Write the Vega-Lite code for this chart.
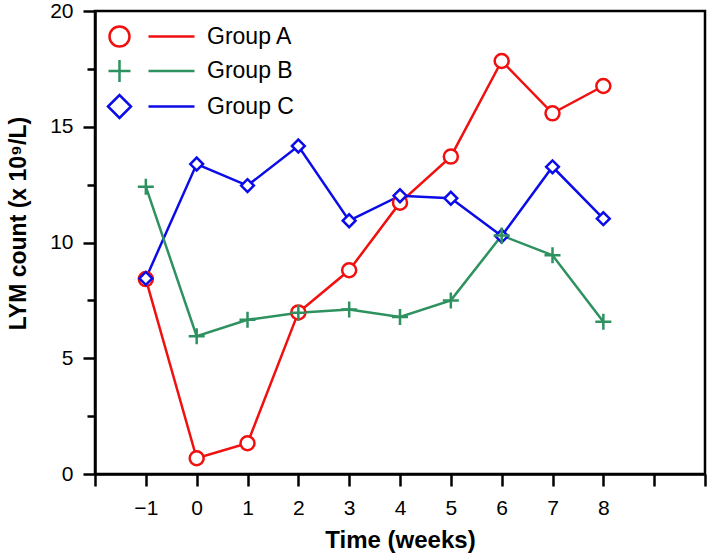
{
  "$schema": "https://vega.github.io/schema/vega-lite/v6.json",
  "autosize": {"type": "none"},
  "padding": {"left": 95, "top": 11, "right": 4, "bottom": 80},
  "width": 610,
  "height": 463,
  "background": "white",
  "config": {
    "view": {"stroke": "black", "strokeWidth": 2.5},
    "font": "Liberation Sans",
    "axis": {
      "domainColor": "black", "domainWidth": 2.5,
      "tickColor": "black", "tickWidth": 2.5,
      "labelColor": "black", "labelFont": "Liberation Sans", "labelFontSize": 21,
      "titleColor": "black", "titleFont": "Liberation Sans", "titleFontWeight": "bold",
      "grid": false, "labelOverlap": false, "labelFlush": false, "labelBound": false
    }
  },
  "data": {
    "values": [
      {"t": -1, "group": "Group A", "v": 8.42},
      {"t": 0, "group": "Group A", "v": 0.68},
      {"t": 1, "group": "Group A", "v": 1.33},
      {"t": 2, "group": "Group A", "v": 6.98},
      {"t": 3, "group": "Group A", "v": 8.8},
      {"t": 4, "group": "Group A", "v": 11.72},
      {"t": 5, "group": "Group A", "v": 13.71},
      {"t": 6, "group": "Group A", "v": 17.84},
      {"t": 7, "group": "Group A", "v": 15.58},
      {"t": 8, "group": "Group A", "v": 16.76},
      {"t": -1, "group": "Group C", "v": 8.45},
      {"t": 0, "group": "Group C", "v": 13.39},
      {"t": 1, "group": "Group C", "v": 12.46},
      {"t": 2, "group": "Group C", "v": 14.17},
      {"t": 3, "group": "Group C", "v": 10.94},
      {"t": 4, "group": "Group C", "v": 12.02},
      {"t": 5, "group": "Group C", "v": 11.91},
      {"t": 6, "group": "Group C", "v": 10.28},
      {"t": 7, "group": "Group C", "v": 13.27},
      {"t": 8, "group": "Group C", "v": 11.03},
      {"t": -1, "group": "Group B", "v": 12.41},
      {"t": 0, "group": "Group B", "v": 5.95},
      {"t": 1, "group": "Group B", "v": 6.66},
      {"t": 2, "group": "Group B", "v": 6.97},
      {"t": 3, "group": "Group B", "v": 7.11},
      {"t": 4, "group": "Group B", "v": 6.78},
      {"t": 5, "group": "Group B", "v": 7.5},
      {"t": 6, "group": "Group B", "v": 10.3},
      {"t": 7, "group": "Group B", "v": 9.45},
      {"t": 8, "group": "Group B", "v": 6.58}
    ]
  },
  "encoding": {
    "x": {
      "field": "t", "type": "quantitative",
      "scale": {"domain": [-2, 10], "nice": false, "zero": false},
      "axis": {
        "title": "Time (weeks)", "titleFontSize": 24, "titlePadding": 10,
        "values": [-2, -1.5, -1, -0.5, 0, 0.5, 1, 1.5, 2, 2.5, 3, 3.5, 4, 4.5, 5, 5.5, 6, 6.5, 7, 7.5, 8, 8.5, 9, 9.5, 10],
        "format": "d",
        "tickSize": {"condition": {"test": "datum.value % 1 !== 0", "value": 7}, "value": 12},
        "labelPadding": 11,
        "labelExpr": "(datum.value % 1 === 0 && datum.value >= -1 && datum.value <= 8) ? datum.label : ''"
      }
    },
    "y": {
      "field": "v", "type": "quantitative",
      "scale": {"domain": [0, 20], "nice": false, "zero": false},
      "axis": {
        "title": "LYM count (x 10⁹/L)", "titleFontSize": 23, "titlePadding": 19, "titleY": 212,
        "values": [0, 2.5, 5, 7.5, 10, 12.5, 15, 17.5, 20],
        "format": "d",
        "tickSize": {"condition": {"test": "datum.value % 5 !== 0", "value": 8}, "value": 12},
        "labelPadding": 10,
        "labelExpr": "datum.value % 5 === 0 ? datum.label : ''"
      }
    },
    "color": {
      "field": "group", "type": "nominal",
      "scale": {"domain": ["Group A", "Group B", "Group C"], "range": ["#f01010", "#2e9160", "#0c0ce8"]},
      "legend": {
        "title": null, "orient": "none", "legendX": 13, "legendY": 14, "padding": 0,
        "labelFontSize": 23, "labelFont": "Liberation Sans", "labelColor": "black",
        "symbolSize": 400, "symbolStrokeWidth": 2.5, "labelOffset": 76, "rowPadding": 2.5,
        "symbolType": "circle",
        "encode": {
          "symbols": {
            "update": {
              "shape": {"signal": "datum.value === 'Group A' ? 'M1,0A1,1,0,1,1,-1,0A1,1,0,1,1,1,0ZM2.9,0H7.5' : (datum.value === 'Group B' ? 'M-1.1,0H1.1M0,-1.1V1.1M2.9,0H7.5' : 'M-1.15,0L0,-1.15L1.15,0L0,1.15ZM2.9,0H7.5')"},
              "fill": {"value": "white"},
              "fillOpacity": {"value": 1},
              "opacity": {"value": 1},
              "strokeWidth": {"value": 2.5}
            }
          }
        }
      }
    }
  },
  "layer": [
    {
      "mark": {"type": "line", "strokeWidth": 2.5}
    },
    {
      "transform": [{"filter": "datum.group === 'Group A'"}],
      "mark": {"type": "point", "filled": false, "fill": "white", "fillOpacity": 1, "opacity": 1, "strokeWidth": 2.5, "size": 256,
               "shape": "M0.875,0A0.875,0.875,0,1,1,-0.875,0A0.875,0.875,0,1,1,0.875,0Z"}
    },
    {
      "transform": [{"filter": "datum.group === 'Group C'"}],
      "mark": {"type": "point", "filled": false, "fill": "white", "fillOpacity": 1, "opacity": 1, "strokeWidth": 2.5, "size": 256,
               "shape": "M-0.8,0L0,-0.8L0.8,0L0,0.8Z"}
    },
    {
      "transform": [{"filter": "datum.group === 'Group B'"}],
      "mark": {"type": "point", "filled": false, "fill": "white", "fillOpacity": 1, "opacity": 1, "strokeWidth": 2.5, "size": 256,
               "shape": "M-1,0H1M0,-1V1"}
    }
  ]
}
